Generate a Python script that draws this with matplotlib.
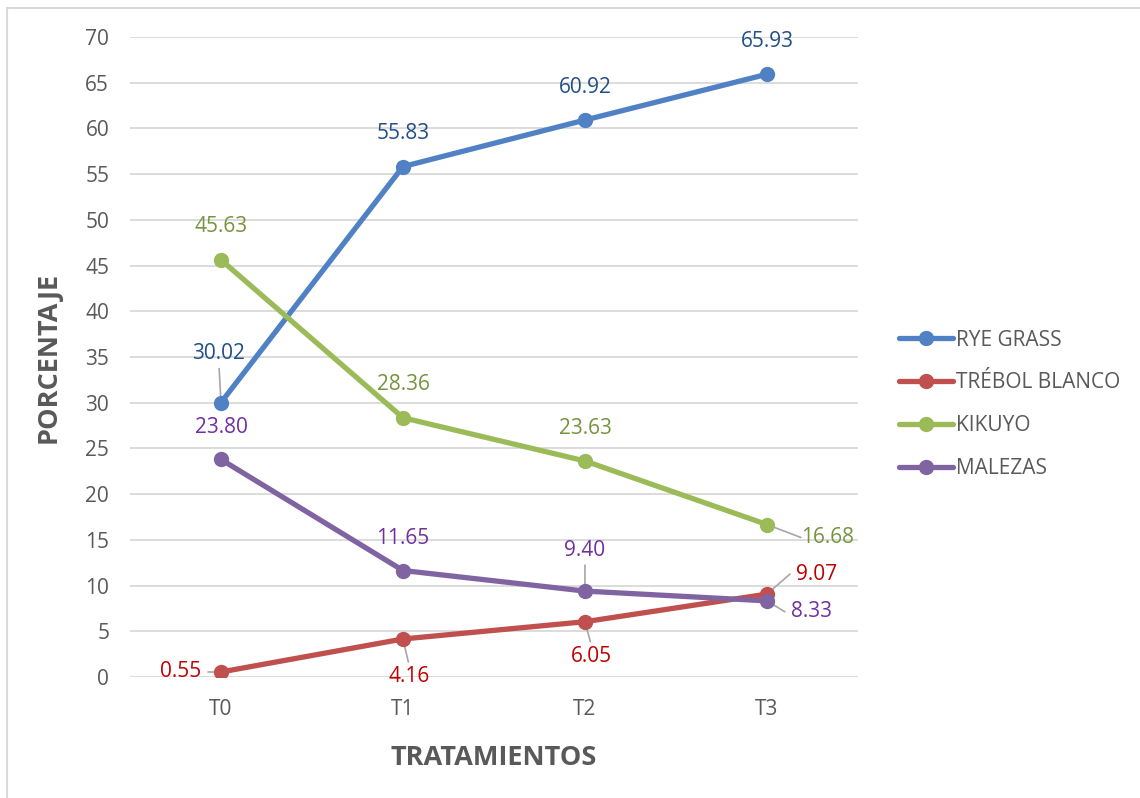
import numpy as np
import matplotlib
matplotlib.use("Agg")
from matplotlib import pyplot as plt
from matplotlib.patches import Rectangle

# Datos
tratamientos = ["T0", "T1", "T2", "T3"]
rye_grass = [30.02, 55.83, 60.92, 65.93]
trebol_blanco = [0.55, 4.16, 6.05, 9.07]
kikuyo = [45.63, 28.36, 23.63, 16.68]
malezas = [23.80, 11.65, 9.40, 8.33]

series = [
    ("RYE GRASS", rye_grass, "#4F81C4", "#1F4E89"),
    ("TRÉBOL BLANCO", trebol_blanco, "#C0504D", "#C00000"),
    ("KIKUYO", kikuyo, "#9BBB59", "#77933C"),
    ("MALEZAS", malezas, "#8064A2", "#7030A0"),
]

# Verschiebung der Beschriftungen (Pixel) und ob eine Hinweislinie gezeichnet wird
offsets = {
    "RYE GRASS": [(-2, 49, True), (0, 33, False), (0, 33, False), (0, 33, False)],
    "TRÉBOL BLANCO": [(-40, 0, True), (6, -38, True), (6, -35, True), (50, 20, True)],
    "KIKUYO": [(0, 33, False), (0, 33, False), (0, 32, False), (61, -13, True)],
    "MALEZAS": [(0, 32, False), (0, 32, False), (0, 41, True), (45, -11, True)],
}

plt.rcParams['font.family'] = ['Open Sans', 'DejaVu Sans']

fig = plt.figure(figsize=(11.4, 7.98), dpi=100)
ax = fig.add_axes([0.114, 0.1516, 0.6386, 0.802])
fig.patches.append(Rectangle((0.006, -0.01), 1.0, 1.0, transform=fig.transFigure,
                             fill=False, edgecolor="#D9D9D9", lw=1.5))

x = np.arange(len(tratamientos))
for name, vals, col, tcol in series:
    ax.plot(x, vals, color=col, lw=3.8, marker="o", markersize=10,
            label=name, solid_capstyle="round", zorder=3)
    for i, v in enumerate(vals):
        dx, dy, leader = offsets[name][i]
        ax.annotate("{:.2f}".format(v), (x[i], v), xytext=(dx, dy),
                    textcoords="offset pixels", ha="center", va="center",
                    color=tcol, fontsize=15, zorder=4)
        if leader:
            # kurze Hinweislinie zwischen Punkt und Beschriftung
            if abs(dx) > abs(dy):
                ex, ey = dx - np.sign(dx) * 27, dy
            else:
                ex, ey = dx * 0.9, dy - np.sign(dy) * 15
            ax.annotate("", (x[i], v), xytext=(ex, ey), textcoords="offset pixels",
                        arrowprops=dict(arrowstyle="-", color="#A6A6A6", lw=1.2,
                                        shrinkA=0, shrinkB=2), zorder=2)

ax.set_xlim(-0.5, 3.5)
ax.set_ylim(0, 70)
ax.set_yticks(np.arange(0, 71, 5))
ax.set_xticks(x)
ax.set_xticklabels(tratamientos)
ax.grid(axis="y", color="#D9D9D9", lw=1.3, zorder=0)
ax.set_axisbelow(True)
for s in ax.spines.values():
    s.set_visible(False)
ax.tick_params(length=0, labelsize=15, colors="#595959")
ax.tick_params(axis="y", pad=15)
ax.tick_params(axis="x", pad=16)

ax.set_xlabel("TRATAMIENTOS", fontsize=19.5, fontweight="bold", color="#595959", labelpad=18)
ax.set_ylabel("PORCENTAJE", fontsize=19.5, fontweight="bold", color="#595959", labelpad=17)

ax.legend(loc="center left", bbox_to_anchor=(1.03, 0.426), frameon=False,
          fontsize=15, labelcolor="#595959", handlelength=2.6, handletextpad=0.15,
          labelspacing=1.05)

fig.savefig("out.png", dpi=100)
